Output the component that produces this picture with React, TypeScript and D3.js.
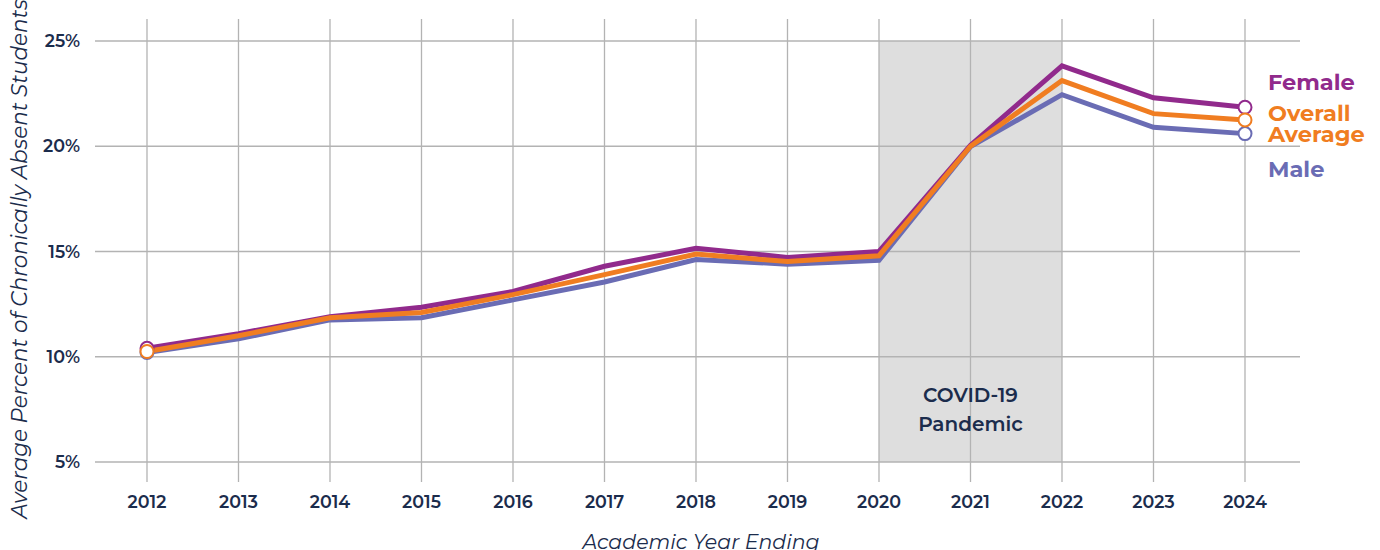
import * as d3 from "d3";
import React from "react";

// academic year ending
const years = [2012, 2013, 2014, 2015, 2016, 2017, 2018, 2019, 2020, 2021, 2022, 2023, 2024];

// average percent chronically absent
const female = [10.4, 11.1, 11.9, 12.35, 13.1, 14.3, 15.15, 14.72, 15.0, 20.05, 23.82, 22.3, 21.85];
const overall = [10.25, 11.0, 11.85, 12.1, 12.95, 13.9, 14.88, 14.52, 14.8, 20.0, 23.12, 21.55, 21.25];
const male = [10.2, 10.85, 11.75, 11.85, 12.7, 13.55, 14.62, 14.4, 14.58, 19.98, 22.45, 20.9, 20.6];

const yTicks = [5, 10, 15, 20, 25];
const covidRange = [2020, 2022];

const navy = "#1b2c4c";
const colours = { female: "#912a8c", overall: "#f07d21", male: "#6a6cb4" };

export default function App() {
  const ref = React.useRef<HTMLDivElement>(null);

  React.useEffect(() => {
    const el = ref.current;
    if (!el) return;
    el.innerHTML = "";

    const W = 1380;
    const H = 550;
    const svg = d3
      .select(el)
      .append("svg")
      .attr("width", W)
      .attr("height", H)
      .style("display", "block")
      .style("font-family", "Montserrat, 'Open Sans', Lato, sans-serif");

    const x = d3.scaleLinear().domain([2012, 2024]).range([147, 1245]);
    const y = d3.scaleLinear().domain([5, 25]).range([462, 41]);

    // covid shading
    svg
      .append("rect")
      .attr("x", x(covidRange[0]))
      .attr("y", y(25))
      .attr("width", x(covidRange[1]) - x(covidRange[0]))
      .attr("height", y(5) - y(25))
      .attr("fill", "#dedede");

    // vertical gridlines
    svg
      .append("g")
      .selectAll("line")
      .data(years)
      .enter()
      .append("line")
      .attr("x1", (d) => x(d))
      .attr("x2", (d) => x(d))
      .attr("y1", 19)
      .attr("y2", 482)
      .attr("stroke", "#b3b3b3")
      .attr("stroke-width", 1.3);

    // horizontal gridlines
    svg
      .append("g")
      .selectAll("line")
      .data(yTicks)
      .enter()
      .append("line")
      .attr("x1", 95)
      .attr("x2", 1300)
      .attr("y1", (d) => y(d))
      .attr("y2", (d) => y(d))
      .attr("stroke", "#b3b3b3")
      .attr("stroke-width", 1.3);

    // y tick labels
    svg
      .append("g")
      .selectAll("text")
      .data(yTicks)
      .enter()
      .append("text")
      .attr("x", 80)
      .attr("y", (d) => y(d))
      .attr("dy", "0.35em")
      .attr("text-anchor", "end")
      .attr("fill", navy)
      .style("font-size", "17.5px")
      .style("font-weight", 600)
      .text((d) => `${d}%`);

    // x tick labels
    svg
      .append("g")
      .selectAll("text")
      .data(years)
      .enter()
      .append("text")
      .attr("x", (d) => x(d))
      .attr("y", 508)
      .attr("text-anchor", "middle")
      .attr("fill", navy)
      .style("font-size", "17.5px")
      .style("font-weight", 600)
      .text((d) => d);

    // covid label
    const cx = (x(covidRange[0]) + x(covidRange[1])) / 2;
    const covid = svg
      .append("text")
      .attr("text-anchor", "middle")
      .attr("fill", navy)
      .style("font-size", "20px")
      .style("font-weight", 600);
    covid.append("tspan").attr("x", cx).attr("y", 402).text("COVID-19");
    covid.append("tspan").attr("x", cx).attr("y", 431).text("Pandemic");

    const line = d3
      .line<number>()
      .x((d, i) => x(years[i]))
      .y((d) => y(d));

    const series: [number[], string][] = [
      [male, colours.male],
      [female, colours.female],
      [overall, colours.overall],
    ];

    series.forEach(([vals, c]) => {
      svg
        .append("path")
        .datum(vals)
        .attr("d", line)
        .attr("fill", "none")
        .attr("stroke", c)
        .attr("stroke-width", 5)
        .attr("stroke-linejoin", "miter");
    });

    // end point markers
    series.forEach(([vals, c]) => {
      const ends = [0, vals.length - 1];
      svg
        .append("g")
        .selectAll("circle")
        .data(ends)
        .enter()
        .append("circle")
        .attr("cx", (i) => x(years[i]))
        .attr("cy", (i) => y(vals[i]))
        .attr("r", 6.5)
        .attr("fill", "#fff")
        .attr("stroke", c)
        .attr("stroke-width", 2);
    });

    // series labels
    const labels: [string, string, number][] = [
      ["Female", colours.female, 90],
      ["Overall", colours.overall, 121],
      ["Average", colours.overall, 142],
      ["Male", colours.male, 177],
    ];
    svg
      .append("g")
      .selectAll("text")
      .data(labels)
      .enter()
      .append("text")
      .attr("x", 1268)
      .attr("y", (d) => d[2])
      .attr("fill", (d) => d[1])
      .style("font-size", "22.5px")
      .style("font-weight", 700)
      .text((d) => d[0]);

    // axis titles
    svg
      .append("text")
      .attr("transform", `translate(27, 259) rotate(-90)`)
      .attr("text-anchor", "middle")
      .attr("fill", navy)
      .style("font-size", "21.5px")
      .style("font-style", "italic")
      .text("Average Percent of Chronically Absent Students");

    svg
      .append("text")
      .attr("x", 701)
      .attr("y", 549)
      .attr("text-anchor", "middle")
      .attr("fill", navy)
      .style("font-size", "20.5px")
      .style("font-style", "italic")
      .text("Academic Year Ending");
  }, []);

  return <div ref={ref} style={{ position: "absolute", left: 0, top: 0 }}></div>;
}
